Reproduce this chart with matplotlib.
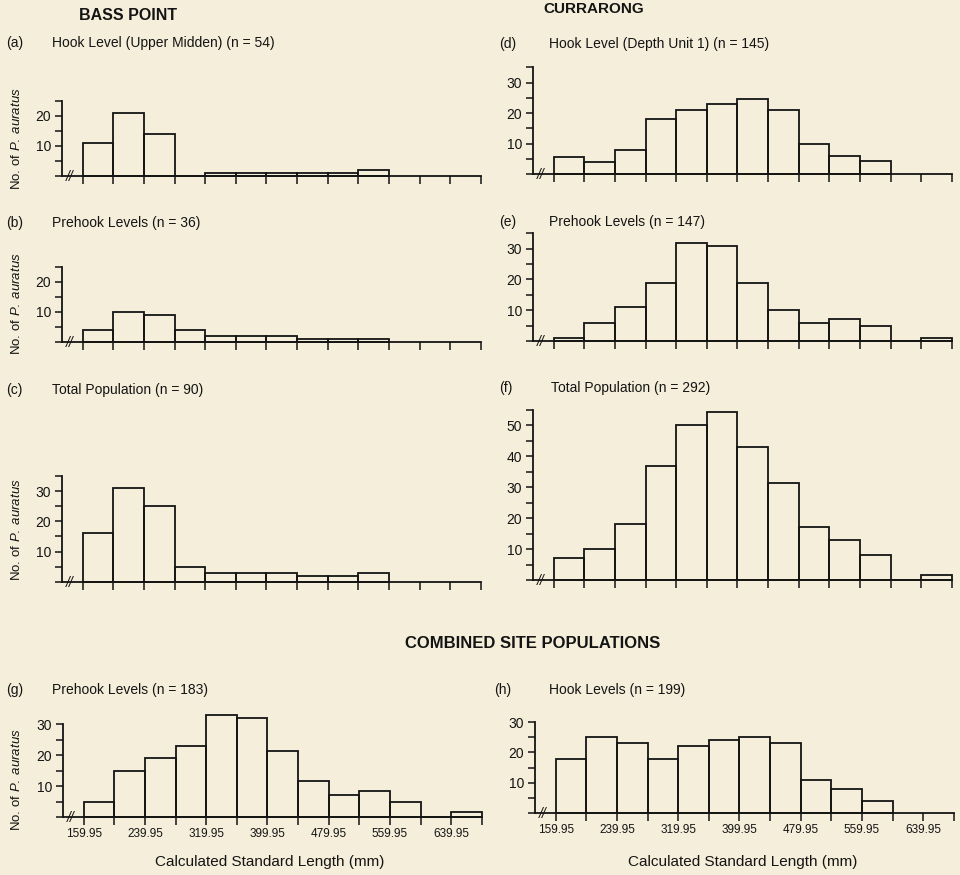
import matplotlib
matplotlib.use('Agg')
import matplotlib.pyplot as plt
from matplotlib.ticker import MultipleLocator

plt.rcParams['font.family'] = ['Liberation Sans', 'DejaVu Sans']
plt.rcParams['mathtext.fontset'] = 'custom'
plt.rcParams['mathtext.rm'] = 'Liberation Sans'
plt.rcParams['mathtext.it'] = 'Liberation Sans:italic'

# 40 mm length classes starting at 159.95 mm
bin_start = 159.95
bin_width = 40
n_bins = 13
class_edges = [bin_start + bin_width * k for k in range(n_bins + 1)]

# counts per class
bass_hook = [11, 21, 14, 0, 1, 1, 1, 1, 1, 2]
bass_prehook = [4, 10, 9, 4, 2, 2, 2, 1, 1, 1]
bass_total = [16, 31, 25, 5, 3, 3, 3, 2, 2, 3]
curr_hook = [5.5, 4, 8, 18, 21, 23, 24.5, 21, 10, 6, 4.5]
curr_prehook = [1, 6, 11, 19, 32, 31, 19, 10, 6, 7, 5, 0, 1]
curr_total = [7, 10, 18, 37, 50, 54.5, 43, 31.5, 17, 13, 8, 0, 1.5]
comb_prehook = [5, 15, 19, 23, 33, 32, 21.5, 11.5, 7, 8.5, 5, 0, 1.5]
comb_hook = [18, 25, 23, 18, 22, 24, 25, 23, 11, 8, 4]

bg = '#F4EEDA'
ink = '#141414'
W, H = 960, 875

fig = plt.figure(figsize=(9.6, 8.75), dpi=100, facecolor=bg)


def px_axes(left, top, right, bottom):
    # pixel box -> figure fraction
    return fig.add_axes([left / W, 1 - bottom / H, (right - left) / W, (bottom - top) / H])


def draw_panel(box, counts, ytop, xlabels=False):
    ax = px_axes(*box)
    ax.set_facecolor(bg)
    lefts = class_edges[:len(counts)]
    ax.bar(lefts, counts, width=bin_width, align='edge', fill=False,
           edgecolor=ink, linewidth=1.3, clip_on=False)
    ax.set_xlim(133, 680)
    ax.set_ylim(0, ytop)
    for s in ['top', 'right']:
        ax.spines[s].set_visible(False)
    for s in ['left', 'bottom']:
        ax.spines[s].set_linewidth(1.3)
        ax.spines[s].set_color(ink)
    ax.set_xticks(class_edges)
    if xlabels:
        labs = [f'{v:.2f}' if (k % 2 == 0 and k <= 12) else '' for k, v in enumerate(class_edges)]
        ax.set_xticklabels(labs, fontsize=8.5, color=ink)
    else:
        ax.set_xticklabels([])
    ax.set_yticks([v for v in range(10, int(ytop) + 1, 10)])
    ax.yaxis.set_minor_locator(MultipleLocator(5))
    ax.tick_params(axis='x', direction='out', length=6, width=1.1, color=ink, pad=2)
    ax.tick_params(axis='y', which='both', direction='out', length=5, width=1.1,
                   color=ink, labelsize=10, labelcolor=ink, pad=3)
    # axis break mark
    ax.text(0.018, -0.3, '//', transform=ax.get_yaxis_transform(), ha='center', va='center',
            fontsize=10, color=ink, style='italic')
    return ax


draw_panel((62, 100.7, 481, 176), bass_hook, 25)
draw_panel((62, 266.7, 481, 342), bass_prehook, 25)
draw_panel((62, 476, 481, 581.7), bass_total, 35)
draw_panel((533, 67.3, 952, 174.3), curr_hook, 35)
draw_panel((533, 233.3, 952, 341), curr_prehook, 35)
draw_panel((533, 410, 952, 580), curr_total, 55)
draw_panel((63, 724.3, 482, 817), comb_prehook, 30, xlabels=True)
draw_panel((535, 722, 954, 813.3), comb_hook, 30, xlabels=True)


def ftext(x, y, s, **kw):
    fig.text(x / W, 1 - y / H, s, color=ink, **kw)


ftext(128, 15, 'BASS POINT', fontsize=11.5, fontweight='bold', ha='center', va='center')
ftext(594, 9, 'CURRARONG', fontsize=11, fontweight='bold', ha='center', va='center')
ftext(533, 644, 'COMBINED SITE POPULATIONS', fontsize=12, fontweight='bold', ha='center', va='center')

panel_titles = [
    (6, 52, 43, '(a)', 'Hook Level (Upper Midden) (n = 54)'),
    (6, 52, 223, '(b)', 'Prehook Levels (n = 36)'),
    (6, 52, 390, '(c)', 'Total Population (n = 90)'),
    (499, 549, 44, '(d)', 'Hook Level (Depth Unit 1) (n = 145)'),
    (499, 549, 222, '(e)', 'Prehook Levels (n = 147)'),
    (499, 551, 388, '(f)', 'Total Population (n = 292)'),
    (6, 52, 690, '(g)', 'Prehook Levels (n = 183)'),
    (494, 549, 690, '(h)', 'Hook Levels (n = 199)'),
]
for lx, tx, y, lab, title in panel_titles:
    ftext(lx, y, lab, fontsize=10, ha='left', va='center')
    ftext(tx, y, title, fontsize=10, ha='left', va='center')

ylab = r'No. of $\mathit{P.\;auratus}$'
for yc in [139, 304, 530, 780]:
    ftext(17, yc, ylab, fontsize=9.5, rotation=90, ha='center', va='center')

ftext(270, 862, 'Calculated Standard Length (mm)', fontsize=11, ha='center', va='center')
ftext(743, 862, 'Calculated Standard Length (mm)', fontsize=11, ha='center', va='center')

fig.savefig('out.png', dpi=100, facecolor=bg)
